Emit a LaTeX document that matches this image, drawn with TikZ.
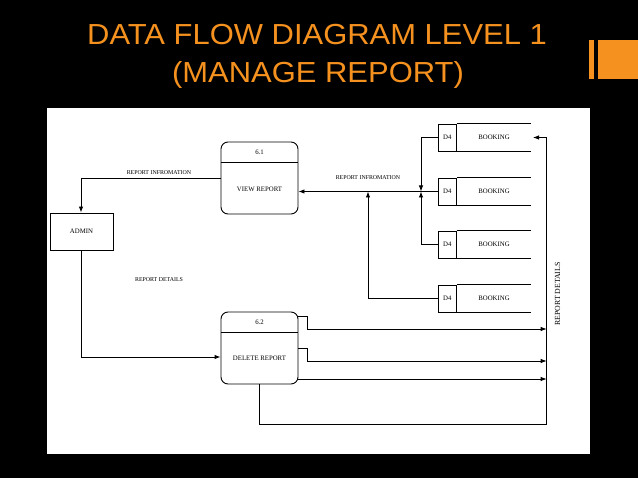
\documentclass[tikz,border=0pt]{standalone}
\usepackage{fontspec}
\setmainfont{Liberation Serif}
\newfontfamily\titlefont{Liberation Sans}
\usetikzlibrary{arrows.meta,calc}
\definecolor{accent}{RGB}{245,145,30}
\begin{document}
\begin{tikzpicture}[x=1pt,y=-1pt,
  ln/.style={line width=0.9pt},
  arr/.style={ln,-{Latex[length=6pt,width=4.5pt]}},
  proc/.style={draw,ln,rounded corners=7pt,minimum width=77pt,minimum height=72pt,inner sep=0pt},
  ent/.style={draw,ln,minimum width=63pt,minimum height=37pt,inner sep=0pt,font=\fontsize{6.8}{8}\selectfont},
  dbox/.style={draw,ln,minimum width=18.7pt,minimum height=27pt,inner sep=0pt,font=\fontsize{6.8}{8}\selectfont},
  ptext/.style={font=\fontsize{6.8}{8}\selectfont,inner sep=0pt},
  lbl/.style={font=\fontsize{5.9}{7}\selectfont,inner sep=0pt},
  ttl/.style={text=accent,font=\titlefont\fontsize{29}{32}\selectfont,inner sep=0pt,anchor=base}
]
\useasboundingbox (0,0) rectangle (638,478);
\fill[black] (0,0) rectangle (638,478);
\fill[white] (47,108) rectangle (590,454);
\fill[accent] (589,40) rectangle (594,79);
\fill[accent] (598,40) rectangle (638,79);
\node[ttl] (t1) at (317,45) {\scalebox{1.067}[1]{DATA FLOW DIAGRAM LEVEL 1}};
\node[ttl] (t2) at (318,83) {\scalebox{1.067}[1]{(MANAGE REPORT)}};

% processes
\node[proc] (v) at (259.5,178) {};
\draw[ln] ($(v.north west)+(0,21)$) -- ($(v.north east)+(0,21)$);
\node[ptext] (vn) at (259.5,152) {6.1};
\node[ptext] (vt) at (259.5,189) {VIEW REPORT};

\node[proc] (d) at (259.5,348) {};
\draw[ln] ($(d.north west)+(0,21)$) -- ($(d.north east)+(0,21)$);
\node[ptext] (dn) at (259.5,322) {6.2};
\node[ptext] (dt) at (259.5,358) {DELETE REPORT};

% entity
\node[ent] (a) at (81.5,231.5) {ADMIN};

% data stores
\foreach \i/\y in {1/137.5,2/191.5,3/244.5,4/298.5}{
  \node[dbox] (s\i) at (447.3,\y) {D4};
  \draw[ln] (s\i.north east) -- ++(74,0) coordinate (s\i tr);
  \draw[ln] (s\i.south east) -- ++(74,0) coordinate (s\i br);
  \node[ptext] (b\i) at (494,\y) {BOOKING};
}

% flows
\coordinate (j1) at (81,178);
\draw[arr] (v.west |- j1) -- (j1) -- (a.north -| j1);
\node[lbl] (l1) at (159,173) {REPORT INFROMATION};

\draw[arr] (s2.west) -- (v.east |- s2.west);
\node[lbl] (l2) at (368,178) {REPORT INFROMATION};

\coordinate (jx) at (421,191.5);
\draw[arr] (s1.west) -| (jx);
\draw[arr] (s3.west) -| (jx);
\coordinate (jy) at (368,191.5);
\draw[arr] (s4.west) -| (jy);

\coordinate (k1) at (81,357);
\draw[arr] (a.south -| k1) -- (k1) -- (d.west |- k1);
\node[lbl] (l3) at (159,280) {REPORT DETAILS};

\coordinate (rx) at (546.7,424);
\coordinate (o1) at (298,316);
\coordinate (o2) at (298,348);
\coordinate (o3) at (298,379);
\draw[arr] (o1) -- (307,316) -- (307,329) -- (rx |- 0,329);
\draw[arr] (o2) -- (307,348) -- (307,361) -- (rx |- 0,361);
\draw[arr] (o3) -- (rx |- o3);
\coordinate (e1) at (533,137.5);
\draw[arr] (d.south) -- (d.south |- rx) -- (rx) -- (rx |- e1) -- (e1);
\node[font=\fontsize{7.8}{9}\selectfont,inner sep=0pt,rotate=90] (l4) at (557.5,294) {REPORT DETAILS};
\end{tikzpicture}
\end{document}
